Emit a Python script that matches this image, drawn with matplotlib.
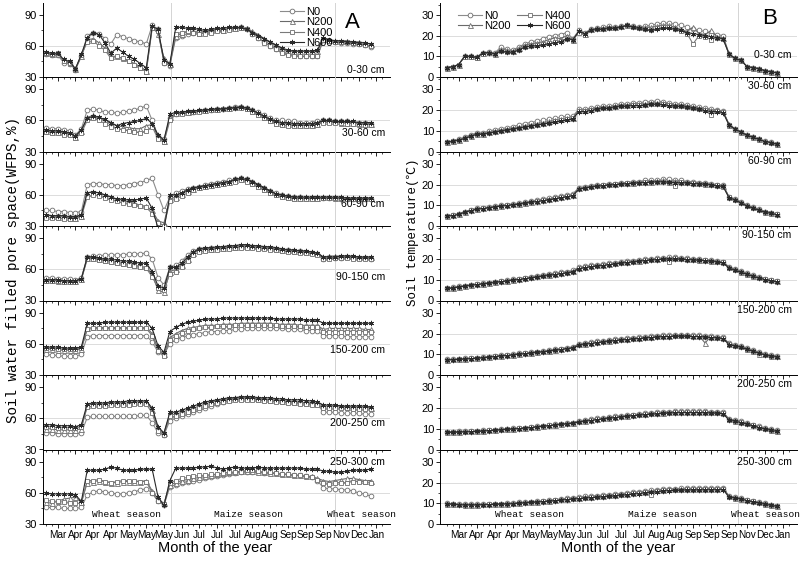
import numpy as np
import matplotlib.pyplot as plt
from matplotlib.ticker import MultipleLocator, FixedLocator

plt.rcParams['font.family'] = ['Liberation Sans', 'DejaVu Sans']

treatments = ['N0', 'N200', 'N400', 'N600']
depths = ['0-30 cm', '30-60 cm', '60-90 cm', '90-150 cm', '150-200 cm', '200-250 cm', '250-300 cm']
month_labels = ['Mar', 'Apr', 'Apr', 'Apr', 'May', 'May', 'May', 'Jun', 'Jul', 'Jul', 'Jul',
                'Aug', 'Aug', 'Sep', 'Sep', 'Sep', 'Nov', 'Dec', 'Jan']
month_pos = [2, 5, 8, 11, 14, 17, 20, 23, 26, 29, 32, 35, 38, 41, 44, 47, 50, 53, 56]

# ---- WFPS (%) ----
wfps1_n0 = [52, 51, 51, 44, 43, 37, 50,
            70, 73, 72, 67, 62, 71, 69, 67, 65, 64, 62,
            80, 76, 44, 41,
            68, 70, 72, 73, 74, 73, 74, 75, 75, 76, 77, 78, 76, 72, 68, 64, 60, 57, 54, 52, 51, 50, 50, 50, 50,
            66, 65, 64, 63, 63, 62, 62, 61, 59]
wfps1_n200 = [53, 52, 52, 46, 44, 38, 50,
              66, 67, 63, 58, 50, 50, 48, 46, 43, 40, 36,
              78, 72, 48, 43,
              70, 72, 74, 74, 73, 74, 75, 76, 75, 77, 77, 78, 77, 74, 71, 67, 63, 60, 57, 55, 55, 55, 55, 55, 55,
              67, 66, 65, 65, 65, 64, 64, 63, 62]
wfps1_n400 = [53, 52, 53, 45, 44, 38, 51,
              64, 65, 60, 56, 48, 50, 48, 45, 42, 39, 35,
              77, 74, 44, 42,
              72, 73, 74, 73, 72, 72, 73, 74, 74, 75, 76, 77, 76, 72, 68, 63, 60, 57, 53, 51, 50, 50, 50, 50, 50,
              66, 65, 64, 64, 64, 63, 62, 61, 60]
wfps1_n600 = [54, 53, 53, 47, 45, 38, 52,
              68, 73, 71, 63, 53, 58, 54, 50, 47, 43, 39,
              79, 76, 46, 43,
              78, 78, 77, 77, 76, 75, 76, 77, 77, 78, 78, 78, 76, 73, 70, 67, 64, 61, 58, 56, 55, 55, 55, 55, 56,
              68, 66, 65, 65, 64, 64, 63, 63, 62]

wfps2_n0 = [53, 52, 52, 51, 50, 46, 52,
            70, 71, 70, 68, 68, 67, 68, 69, 70, 72, 74,
            60, 45, 42, 62,
            66, 67, 68, 68, 69, 70, 70, 71, 71, 72, 73, 73, 72, 70, 68, 65, 62, 60, 60, 59, 59, 58, 58, 58, 59,
            60, 60, 59, 59, 59, 58, 58, 58, 57]
wfps2_n200 = [50, 49, 49, 48, 47, 44, 50,
              63, 65, 63, 60, 57, 55, 54, 53, 52, 52, 55,
              56, 44, 40, 63,
              67, 68, 68, 69, 70, 70, 71, 71, 72, 72, 73, 74, 72, 69, 66, 63, 60, 58, 57, 57, 56, 56, 56, 56, 57,
              59, 59, 59, 58, 58, 58, 57, 57, 57]
wfps2_n400 = [49, 48, 48, 46, 46, 43, 48,
              60, 62, 60, 57, 54, 52, 51, 50, 49, 48, 50,
              54, 42, 39, 60,
              66, 66, 67, 68, 68, 69, 70, 70, 71, 71, 72, 72, 71, 68, 65, 62, 59, 57, 56, 55, 55, 55, 55, 55, 56,
              58, 58, 58, 58, 57, 57, 57, 56, 56]
wfps2_n600 = [51, 50, 50, 49, 48, 45, 51,
              62, 64, 63, 61, 58, 55, 57, 58, 59, 60, 62,
              57, 46, 41, 66,
              68, 68, 69, 69, 70, 70, 71, 71, 71, 72, 72, 73, 72, 70, 67, 64, 61, 59, 58, 58, 57, 57, 57, 57, 58,
              60, 60, 59, 59, 59, 59, 58, 58, 58]

wfps3_n0 = [45, 45, 44, 44, 43, 43, 44,
            70, 71, 71, 70, 70, 69, 69, 70, 71, 72, 74,
            76, 60, 45, 58,
            62, 64, 66, 67, 68, 70, 71, 72, 73, 74, 75, 76, 75, 73, 70, 67, 64, 62, 60, 59, 58, 58, 57, 57, 57,
            57, 57, 57, 56, 56, 56, 56, 56, 56]
wfps3_n200 = [40, 40, 39, 39, 38, 38, 40,
              62, 63, 62, 60, 58, 56, 55, 53, 52, 50, 49,
              45, 35, 33, 56,
              58, 61, 64, 66, 68, 69, 70, 71, 72, 73, 74, 75, 74, 72, 69, 66, 63, 61, 59, 58, 57, 57, 57, 57, 57,
              58, 58, 57, 57, 57, 57, 57, 57, 57]
wfps3_n400 = [38, 38, 38, 37, 37, 37, 39,
              58, 60, 59, 57, 55, 54, 52, 51, 50, 49, 48,
              42, 33, 30, 54,
              56, 59, 62, 65, 67, 68, 69, 70, 71, 72, 73, 74, 73, 71, 68, 65, 62, 60, 58, 57, 56, 56, 56, 56, 56,
              57, 57, 57, 57, 56, 56, 56, 56, 56]
wfps3_n600 = [41, 40, 40, 40, 39, 39, 41,
              62, 63, 62, 60, 58, 56, 56, 55, 55, 56, 57,
              47, 28, 27, 60,
              60, 62, 65, 67, 68, 69, 70, 71, 72, 73, 75, 76, 75, 73, 70, 67, 64, 61, 60, 59, 58, 58, 58, 58, 58,
              58, 58, 58, 58, 57, 57, 57, 57, 57]

wfps4_n0 = [52, 52, 51, 51, 51, 50, 52,
            72, 73, 73, 74, 74, 74, 74, 75, 75, 75, 76,
            70, 52, 45, 62,
            64, 68, 74, 78, 80, 80, 81, 81, 81, 82, 82, 82, 82, 82, 81, 81, 80, 80, 79, 79, 78, 78, 77, 76, 75,
            70, 71, 71, 71, 72, 71, 71, 71, 70]
wfps4_n200 = [50, 50, 49, 49, 49, 49, 51,
              71, 71, 70, 69, 68, 67, 66, 65, 64, 63, 62,
              55, 40, 38, 58,
              60, 64, 70, 76, 79, 80, 80, 81, 81, 82, 82, 83, 83, 83, 82, 82, 81, 80, 79, 79, 78, 78, 77, 77, 76,
              72, 73, 73, 73, 73, 72, 72, 72, 72]
wfps4_n400 = [49, 49, 49, 48, 48, 48, 50,
              70, 70, 69, 68, 67, 66, 65, 64, 63, 62, 61,
              53, 42, 40, 56,
              58, 62, 68, 74, 77, 78, 79, 79, 80, 80, 81, 81, 81, 81, 80, 80, 79, 79, 78, 77, 77, 76, 76, 75, 74,
              70, 70, 71, 71, 71, 70, 70, 70, 70]
wfps4_n600 = [50, 50, 50, 49, 49, 49, 51,
              72, 72, 71, 70, 70, 69, 68, 68, 67, 66, 66,
              58, 44, 42, 62,
              62, 66, 72, 77, 80, 81, 81, 82, 82, 83, 83, 84, 84, 83, 83, 82, 82, 81, 80, 79, 79, 78, 78, 77, 76,
              72, 72, 72, 73, 73, 73, 72, 72, 72]

wfps5_n0 = [50, 49, 49, 48, 48, 48, 50,
            67, 68, 68, 68, 68, 68, 68, 68, 68, 68, 68,
            62, 52, 50, 60,
            64, 66, 68, 69, 70, 71, 72, 72, 73, 73, 74, 74, 75, 75, 75, 75, 75, 75, 75, 74, 74, 74, 73, 73, 73,
            68, 68, 68, 68, 67, 67, 67, 67, 67]
wfps5_n200 = [55, 55, 54, 54, 54, 54, 55,
              75, 76, 76, 76, 76, 76, 76, 76, 76, 76, 76,
              70, 55, 50, 66,
              70, 73, 75, 76, 77, 78, 78, 78, 79, 79, 79, 80, 80, 80, 80, 80, 80, 79, 79, 79, 79, 78, 78, 78, 78,
              74, 75, 75, 75, 75, 75, 75, 74, 74]
wfps5_n400 = [56, 56, 55, 55, 55, 55, 56,
              74, 75, 75, 75, 75, 75, 75, 75, 75, 75, 75,
              68, 53, 48, 64,
              68, 71, 73, 74, 75, 76, 76, 77, 77, 77, 78, 78, 78, 78, 78, 78, 78, 78, 77, 77, 77, 77, 76, 76, 76,
              72, 72, 72, 72, 72, 72, 72, 72, 72]
wfps5_n600 = [57, 57, 57, 56, 56, 56, 57,
              80, 80, 80, 81, 81, 81, 81, 81, 81, 81, 81,
              75, 58, 52, 72,
              76, 79, 81, 82, 83, 84, 84, 84, 85, 85, 85, 85, 85, 85, 85, 85, 85, 84, 84, 84, 84, 84, 83, 83, 83,
              80, 80, 80, 80, 80, 80, 80, 80, 80]

wfps6_n0 = [46, 46, 45, 45, 45, 45, 46,
            61, 62, 62, 62, 62, 62, 62, 62, 62, 63, 63,
            56, 46, 44, 58,
            60, 62, 64, 66, 68, 70, 72, 74, 76, 78, 79, 80, 80, 79, 79, 78, 78, 77, 77, 76, 76, 75, 75, 74, 74,
            66, 66, 66, 65, 65, 65, 65, 64, 64]
wfps6_n200 = [50, 50, 49, 49, 49, 49, 50,
              73, 74, 74, 74, 75, 75, 75, 75, 76, 76, 76,
              68, 50, 46, 64,
              64, 66, 68, 70, 72, 74, 76, 77, 78, 79, 80, 80, 80, 80, 79, 79, 78, 78, 77, 77, 76, 76, 75, 75, 74,
              72, 72, 72, 72, 71, 71, 71, 71, 70]
wfps6_n400 = [52, 52, 51, 51, 51, 51, 52,
              71, 72, 72, 72, 73, 73, 73, 73, 74, 74, 74,
              65, 48, 44, 62,
              62, 64, 66, 68, 70, 72, 74, 75, 76, 77, 78, 78, 78, 78, 78, 77, 77, 76, 76, 75, 75, 74, 74, 73, 73,
              70, 70, 70, 70, 70, 69, 69, 69, 69]
wfps6_n600 = [54, 54, 53, 53, 53, 52, 54,
              74, 75, 75, 75, 76, 76, 76, 77, 77, 77, 77,
              70, 52, 46, 66,
              66, 68, 70, 72, 74, 76, 77, 78, 79, 80, 80, 81, 81, 81, 80, 80, 80, 79, 79, 78, 78, 78, 77, 77, 76,
              73, 73, 73, 72, 72, 72, 72, 72, 71]

wfps7_n0 = [46, 46, 46, 45, 45, 45, 46,
            58, 61, 62, 61, 60, 59, 59, 60, 61, 63, 64,
            60, 52, 48, 66,
            68, 70, 71, 72, 73, 74, 75, 76, 77, 78, 79, 80, 80, 80, 80, 79, 79, 79, 78, 78, 77, 77, 76, 75, 72,
            65, 64, 64, 63, 63, 62, 60, 59, 57]
wfps7_n200 = [51, 50, 52, 54, 55, 56, 51,
              70, 71, 72, 71, 70, 70, 71, 71, 71, 71, 72,
              62, 54, 50, 68,
              70, 72, 73, 74, 75, 76, 77, 78, 79, 80, 80, 81, 81, 81, 80, 80, 79, 79, 78, 78, 77, 77, 76, 76, 74,
              72, 71, 72, 73, 74, 74, 73, 72, 72]
wfps7_n400 = [53, 52, 52, 51, 50, 50, 50,
              72, 72, 73, 71, 70, 71, 72, 72, 72, 71, 71,
              60, 52, 49, 70,
              72, 74, 75, 76, 77, 77, 78, 78, 79, 80, 80, 80, 82, 82, 81, 80, 80, 79, 78, 78, 77, 77, 76, 75, 73,
              70, 69, 70, 70, 70, 71, 71, 71, 70]
wfps7_n600 = [60, 59, 59, 59, 59, 58, 52,
              82, 82, 82, 83, 85, 84, 82, 82, 82, 83, 83,
              83, 56, 48, 72,
              84, 84, 84, 84, 85, 85, 86, 84, 83, 84, 85, 84, 84, 84, 85, 84, 84, 84, 84, 84, 84, 84, 83, 83, 83,
              81, 81, 80, 80, 81, 82, 82, 82, 83]

# ---- Soil temperature (C) ----
temp1_n0 = [4.5, 5.0, 6.0, 10.0, 10.0, 9.5, 11.8, 12.0, 11.5, 14.5,
            13.5, 13.0, 14.5, 16.0, 17.0, 17.5, 18.5, 19.5, 20.0, 20.5,
            21.5, 18.5, 22.5, 21.5, 23.0, 23.5, 24.0, 24.5, 24.0, 24.5,
            25.0, 24.5, 24.0, 24.5, 25.0, 25.5, 26.0, 26.0, 25.5, 25.0,
            24.0, 23.0, 22.5, 22.0, 21.0, 20.5, 20.0, 11.2, 9.0, 8.0,
            5.0, 4.5, 4.0, 3.0, 2.5, 2.0]
temp1_n200 = [4.4, 5.0, 6.0, 10.0, 10.0, 9.5, 11.5, 12.0, 11.2, 13.5,
              13.0, 12.5, 14.0, 15.5, 16.0, 16.5, 17.0, 18.0, 19.0, 18.5,
              20.0, 18.0, 22.0, 21.0, 23.0, 23.5, 23.5, 24.0, 24.0, 24.5,
              25.0, 24.5, 24.0, 24.0, 24.0, 24.5, 25.0, 25.0, 24.0, 23.0,
              22.0, 24.0, 21.0, 20.5, 22.5, 19.5, 19.0, 11.0, 9.0, 8.0,
              5.0, 4.5, 4.0, 3.0, 2.5, 2.0]
temp1_n400 = [4.3, 5.0, 6.0, 9.8, 9.8, 9.3, 11.3, 11.5, 11.0, 12.5,
              12.0, 12.0, 13.0, 14.5, 15.0, 15.5, 16.0, 16.5, 17.0, 17.5,
              18.5, 18.0, 21.5, 20.5, 22.5, 23.0, 23.0, 23.5, 23.5, 24.0,
              25.0, 24.0, 23.5, 23.0, 22.5, 23.5, 24.0, 24.0, 23.0, 22.0,
              21.0, 16.0, 20.0, 19.5, 18.0, 19.0, 18.5, 11.0, 9.0, 8.0,
              5.0, 4.5, 4.0, 3.0, 2.5, 2.0]
temp1_n600 = [4.4, 5.0, 6.0, 10.0, 10.0, 9.5, 11.5, 11.8, 11.2, 12.5,
              12.0, 12.0, 13.0, 14.5, 15.0, 15.0, 15.5, 16.0, 16.5, 17.0,
              18.5, 18.0, 22.0, 21.0, 22.5, 23.0, 23.0, 23.5, 23.5, 24.0,
              25.0, 24.0, 23.5, 23.0, 22.5, 23.0, 23.5, 23.5, 23.0, 22.5,
              21.5, 21.0, 20.5, 20.0, 19.5, 19.0, 18.5, 11.0, 9.0, 8.0,
              5.0, 4.5, 4.0, 3.0, 2.5, 2.0]

temp2_n0 = [4.6, 5.2, 5.8, 7.0, 8.0, 9.0, 9.0, 9.8, 10.5, 11.0,
            11.5, 12.0, 12.8, 13.5, 14.0, 14.5, 15.0, 15.5, 16.0, 16.5,
            17.0, 17.0, 20.5, 20.5, 21.0, 21.5, 22.0, 22.0, 22.5, 23.0,
            23.0, 23.5, 23.5, 24.0, 24.0, 24.5, 24.0, 23.5, 23.0, 23.0,
            22.5, 22.0, 21.5, 21.0, 20.5, 20.0, 19.5, 13.0, 11.0, 9.5,
            8.0, 7.0, 6.0, 5.0, 4.5, 3.5]
temp2_n200 = [4.5, 5.0, 5.6, 6.6, 7.6, 8.6, 8.6, 9.2, 9.8, 10.3,
              10.8, 11.3, 11.8, 12.5, 13.0, 13.5, 14.0, 14.5, 15.0, 15.5,
              16.0, 16.3, 20.0, 20.0, 20.5, 21.0, 21.5, 21.5, 22.0, 22.5,
              22.5, 23.0, 23.0, 23.0, 23.5, 23.5, 23.5, 23.0, 22.5, 22.5,
              22.0, 21.5, 21.0, 20.5, 20.0, 20.0, 19.5, 13.0, 11.0, 9.5,
              8.0, 7.0, 6.0, 5.0, 4.5, 3.5]
temp2_n400 = [4.4, 5.0, 5.5, 6.5, 7.5, 8.5, 8.4, 9.0, 9.5, 10.0,
              10.5, 11.0, 11.5, 12.0, 12.5, 13.0, 13.5, 14.0, 14.5, 15.0,
              15.5, 16.0, 19.5, 19.5, 20.0, 20.5, 21.0, 21.0, 21.5, 22.0,
              22.0, 22.5, 22.5, 22.5, 23.0, 23.0, 23.0, 22.5, 22.0, 22.0,
              21.5, 21.0, 20.5, 20.0, 17.5, 19.5, 19.0, 12.8, 10.8, 9.3,
              7.8, 6.8, 5.8, 4.8, 4.3, 3.4]
temp2_n600 = [4.4, 4.9, 5.4, 6.3, 7.3, 8.3, 8.3, 8.8, 9.3, 9.8,
              10.2, 10.7, 11.2, 11.7, 12.2, 12.7, 13.2, 13.7, 14.2, 14.7,
              15.2, 15.7, 19.3, 19.3, 19.8, 20.3, 20.8, 20.8, 21.3, 21.8,
              21.8, 22.2, 22.2, 22.3, 22.8, 22.8, 22.5, 22.2, 21.8, 21.8,
              21.3, 20.8, 20.3, 19.8, 19.3, 19.3, 18.8, 12.8, 10.8, 9.3,
              7.8, 6.8, 5.8, 4.8, 4.3, 3.4]

temp3_n0 = [5.0, 5.3, 6.0, 7.0, 7.8, 8.5, 8.8, 9.2, 9.6, 10.0,
            10.3, 10.7, 11.0, 11.5, 12.0, 12.5, 13.0, 13.5, 14.0, 14.5,
            15.0, 15.5, 18.5, 19.0, 19.5, 20.0, 20.0, 20.5, 20.5, 21.0,
            21.0, 21.5, 21.5, 22.0, 22.0, 22.0, 22.5, 22.5, 22.0, 22.0,
            21.5, 21.5, 21.0, 21.0, 20.5, 20.0, 19.8, 14.0, 13.0, 11.5,
            10.0, 9.0, 8.0, 7.0, 6.5, 5.8]
temp3_n200 = [4.9, 5.2, 5.8, 6.8, 7.6, 8.3, 8.6, 9.0, 9.4, 9.8,
              10.1, 10.5, 10.8, 11.2, 11.7, 12.2, 12.6, 13.0, 13.5, 14.0,
              14.5, 15.0, 18.3, 18.7, 19.2, 19.6, 19.8, 20.2, 20.3, 20.6,
              20.8, 21.0, 21.2, 21.5, 21.5, 21.8, 22.0, 21.5, 21.8, 21.5,
              21.2, 21.0, 20.8, 20.5, 20.2, 19.8, 19.5, 14.0, 13.0, 11.5,
              10.0, 9.0, 8.0, 7.0, 6.5, 5.8]
temp3_n400 = [4.8, 5.1, 5.7, 6.7, 7.5, 8.2, 8.5, 8.9, 9.3, 9.7,
              10.0, 10.3, 10.6, 11.0, 11.5, 12.0, 12.4, 12.8, 13.3, 13.8,
              14.3, 14.8, 18.0, 18.5, 19.0, 19.4, 19.6, 20.0, 20.1, 20.4,
              20.6, 20.8, 21.0, 21.2, 21.3, 21.5, 21.5, 21.3, 19.5, 21.2,
              21.0, 20.8, 20.5, 20.3, 20.0, 19.6, 19.3, 13.8, 12.8, 11.3,
              9.8, 8.8, 7.8, 6.8, 6.3, 5.6]
temp3_n600 = [4.8, 5.0, 5.6, 6.6, 7.4, 8.1, 8.4, 8.8, 9.2, 9.6,
              9.9, 10.2, 10.5, 10.9, 11.4, 11.8, 12.2, 12.6, 13.1, 13.6,
              14.1, 14.6, 17.8, 18.3, 18.8, 19.2, 19.4, 19.8, 19.9, 20.2,
              20.4, 20.6, 20.8, 21.0, 21.1, 21.3, 21.3, 21.1, 21.0, 20.9,
              20.7, 20.5, 20.3, 20.1, 19.8, 19.4, 19.1, 13.6, 12.6, 11.1,
              9.6, 8.6, 7.6, 6.6, 6.1, 5.4]

temp4_n0 = [6.0, 6.3, 6.8, 7.2, 7.6, 8.0, 8.3, 8.6, 9.0, 9.4,
            9.8, 10.2, 10.6, 11.0, 11.5, 12.0, 12.4, 12.8, 13.2, 13.6,
            14.0, 14.5, 16.0, 16.5, 17.0, 17.3, 17.6, 18.0, 18.3, 18.7,
            19.0, 19.3, 19.6, 20.0, 20.2, 20.4, 20.6, 20.8, 20.8, 20.6,
            20.4, 20.2, 20.0, 19.8, 19.5, 19.2, 18.8, 16.2, 15.2, 14.2,
            13.2, 12.2, 11.4, 10.6, 10.0, 9.5]
temp4_n200 = [5.9, 6.2, 6.7, 7.1, 7.5, 7.9, 8.2, 8.5, 8.9, 9.3,
              9.6, 10.0, 10.4, 10.8, 11.2, 11.7, 12.1, 12.5, 12.9, 13.3,
              13.7, 14.2, 15.8, 16.2, 16.7, 17.0, 17.3, 17.7, 18.0, 18.4,
              18.7, 19.0, 19.3, 19.7, 19.9, 20.1, 20.3, 20.5, 20.5, 20.4,
              20.2, 20.0, 19.8, 19.6, 19.3, 19.0, 18.6, 16.0, 15.0, 14.0,
              13.0, 12.0, 11.2, 10.5, 9.9, 9.4]
temp4_n400 = [5.8, 6.1, 6.6, 7.0, 7.4, 7.8, 8.1, 8.4, 8.8, 9.2,
              9.5, 9.9, 10.3, 10.7, 11.1, 11.5, 11.9, 12.3, 12.7, 13.1,
              13.5, 14.0, 15.6, 16.0, 16.5, 16.8, 17.1, 17.5, 17.8, 18.2,
              18.5, 18.8, 19.1, 19.5, 19.7, 19.9, 20.1, 18.5, 20.3, 20.2,
              20.0, 19.8, 19.6, 19.4, 19.1, 18.8, 18.4, 15.8, 14.8, 13.8,
              12.8, 11.8, 11.0, 10.3, 9.7, 9.2]
temp4_n600 = [5.8, 6.0, 6.5, 6.9, 7.3, 7.7, 8.0, 8.3, 8.7, 9.1,
              9.4, 9.8, 10.1, 10.5, 10.9, 11.3, 11.7, 12.1, 12.5, 12.9,
              13.3, 13.8, 15.4, 15.8, 16.3, 16.6, 16.9, 17.3, 17.6, 18.0,
              18.3, 18.6, 18.9, 19.3, 19.5, 19.7, 19.9, 20.0, 20.0, 19.9,
              19.8, 19.6, 19.4, 19.2, 18.9, 18.6, 18.2, 15.6, 14.6, 13.6,
              12.6, 11.6, 10.8, 10.1, 9.5, 9.0]

temp5_n0 = [7.5, 7.6, 7.8, 8.0, 8.2, 8.4, 8.6, 8.9, 9.2, 9.5,
            9.8, 10.1, 10.4, 10.7, 11.0, 11.3, 11.6, 12.0, 12.4, 12.8,
            13.2, 13.6, 15.0, 15.5, 15.8, 16.2, 16.5, 16.8, 17.2, 17.5,
            17.8, 18.0, 18.3, 18.5, 18.8, 19.0, 19.2, 19.3, 19.4, 19.4,
            19.4, 19.3, 19.2, 19.0, 18.8, 18.5, 18.2, 15.3, 14.6, 14.0,
            13.0, 12.0, 11.0, 10.2, 9.6, 9.2]
temp5_n200 = [7.4, 7.5, 7.7, 7.9, 8.1, 8.3, 8.5, 8.8, 9.1, 9.4,
              9.6, 9.9, 10.2, 10.5, 10.8, 11.1, 11.4, 11.8, 12.2, 12.6,
              13.0, 13.4, 14.8, 15.2, 15.6, 16.0, 16.3, 16.6, 17.0, 17.3,
              17.5, 17.8, 18.0, 18.2, 18.5, 18.7, 18.9, 19.0, 19.1, 19.1,
              19.1, 19.0, 18.9, 15.5, 18.6, 18.3, 18.0, 15.1, 14.4, 13.8,
              12.8, 11.8, 10.2, 10.0, 9.4, 9.0]
temp5_n400 = [7.3, 7.4, 7.6, 7.8, 8.0, 8.2, 8.4, 8.7, 9.0, 9.3,
              9.5, 9.8, 10.1, 10.4, 10.7, 11.0, 11.3, 11.6, 12.0, 12.4,
              12.8, 13.2, 14.5, 15.0, 15.4, 15.8, 16.1, 16.4, 16.8, 17.1,
              17.3, 17.6, 17.8, 18.0, 18.3, 18.5, 18.7, 18.8, 18.9, 18.9,
              18.9, 18.8, 18.7, 18.5, 18.3, 18.1, 17.8, 14.9, 14.2, 13.6,
              12.6, 11.6, 10.8, 9.8, 9.2, 8.8]
temp5_n600 = [7.3, 7.4, 7.5, 7.7, 7.9, 8.1, 8.3, 8.6, 8.9, 9.2,
              9.4, 9.7, 10.0, 10.3, 10.6, 10.9, 11.2, 11.5, 11.9, 12.3,
              12.7, 13.1, 14.3, 14.8, 15.2, 15.6, 15.9, 16.2, 16.6, 16.9,
              17.1, 17.4, 17.6, 17.8, 18.1, 18.3, 18.5, 18.6, 18.7, 18.7,
              18.7, 18.6, 18.5, 18.3, 18.1, 17.9, 17.6, 14.7, 14.0, 13.4,
              12.4, 11.4, 10.6, 9.6, 9.0, 8.6]

temp6_n0 = [8.5, 8.6, 8.7, 8.8, 8.9, 9.0, 9.2, 9.4, 9.6, 9.8,
            10.0, 10.2, 10.4, 10.6, 10.9, 11.2, 11.5, 11.8, 12.1, 12.4,
            12.7, 13.0, 13.8, 14.2, 14.6, 15.0, 15.3, 15.6, 16.0, 16.3,
            16.6, 16.9, 17.2, 17.5, 17.7, 17.9, 18.1, 18.3, 18.4, 18.5,
            18.5, 18.5, 18.5, 18.4, 18.3, 18.2, 18.0, 14.8, 14.2, 13.6,
            12.8, 12.0, 11.2, 10.5, 9.8, 9.2]
temp6_n200 = [8.4, 8.5, 8.6, 8.7, 8.8, 8.9, 9.1, 9.3, 9.5, 9.7,
              9.9, 10.1, 10.3, 10.5, 10.8, 11.1, 11.4, 11.7, 12.0, 12.3,
              12.6, 12.9, 13.6, 14.0, 14.4, 14.8, 15.1, 15.4, 15.8, 16.1,
              16.4, 16.7, 17.0, 17.2, 17.4, 17.6, 17.8, 18.0, 18.1, 18.2,
              18.2, 18.2, 18.2, 18.1, 18.0, 17.9, 17.7, 14.6, 14.0, 13.4,
              12.6, 11.8, 11.0, 10.3, 9.6, 9.0]
temp6_n400 = [8.3, 8.4, 8.5, 8.6, 8.7, 8.8, 9.0, 9.2, 9.4, 9.6,
              9.8, 10.0, 10.2, 10.4, 10.7, 11.0, 11.3, 11.6, 11.9, 12.2,
              12.5, 12.8, 13.4, 13.8, 14.2, 14.6, 14.9, 15.2, 15.6, 15.9,
              16.2, 16.5, 16.8, 17.0, 17.2, 17.4, 17.6, 17.8, 17.9, 18.0,
              18.0, 18.0, 18.0, 17.9, 17.8, 17.7, 17.5, 14.4, 13.8, 13.2,
              12.4, 11.6, 10.8, 10.1, 9.4, 8.8]
temp6_n600 = [8.3, 8.3, 8.4, 8.5, 8.6, 8.7, 8.9, 9.1, 9.3, 9.5,
              9.7, 9.9, 10.1, 10.3, 10.6, 10.9, 11.2, 11.5, 11.8, 12.1,
              12.4, 12.7, 13.2, 13.6, 14.0, 14.4, 14.7, 15.0, 15.4, 15.7,
              16.0, 16.3, 16.6, 16.8, 17.0, 17.2, 17.4, 17.6, 17.7, 17.8,
              17.8, 17.8, 17.8, 17.7, 17.6, 17.5, 17.3, 14.2, 13.6, 13.0,
              12.2, 11.4, 10.6, 9.9, 9.2, 8.7]

temp7_n0 = [10.0, 9.8, 9.6, 9.5, 9.5, 9.5, 9.6, 9.7, 9.8, 9.9,
            10.0, 10.2, 10.4, 10.6, 10.8, 11.0, 11.2, 11.5, 11.8, 12.1,
            12.4, 12.7, 13.0, 13.3, 13.5, 13.7, 14.0, 14.2, 14.4, 14.7,
            15.0, 15.3, 15.6, 15.9, 16.2, 16.5, 16.8, 17.0, 17.1, 17.2,
            17.3, 17.3, 17.3, 17.4, 17.4, 17.4, 17.5, 13.5, 13.0, 12.5,
            11.8, 11.2, 10.6, 10.0, 9.4, 8.8]
temp7_n200 = [9.9, 9.7, 9.5, 9.4, 9.4, 9.4, 9.5, 9.6, 9.7, 9.8,
              9.9, 10.0, 10.2, 10.4, 10.6, 10.8, 11.0, 11.3, 11.6, 11.9,
              12.2, 12.5, 12.7, 13.0, 13.2, 13.4, 13.7, 13.9, 14.1, 14.4,
              14.7, 15.0, 15.3, 15.6, 15.9, 16.2, 16.5, 16.7, 16.8, 16.9,
              17.0, 17.0, 17.0, 17.1, 17.1, 17.1, 17.2, 13.3, 12.8, 12.3,
              11.6, 11.0, 10.4, 9.8, 9.2, 8.7]
temp7_n400 = [9.8, 9.6, 9.4, 9.3, 9.3, 9.3, 9.4, 9.5, 9.6, 9.7,
              9.8, 9.9, 10.1, 10.3, 10.5, 10.7, 10.9, 11.1, 11.4, 11.7,
              12.0, 12.3, 12.5, 12.8, 13.0, 13.2, 13.5, 13.7, 13.9, 14.2,
              14.5, 14.8, 15.1, 15.4, 13.8, 15.9, 16.2, 16.4, 16.5, 16.6,
              16.7, 16.7, 16.7, 16.8, 16.8, 16.8, 16.9, 13.2, 12.7, 12.2,
              11.5, 10.9, 10.3, 9.7, 9.1, 8.6]
temp7_n600 = [9.8, 9.5, 9.3, 9.2, 9.2, 9.2, 9.3, 9.4, 9.5, 9.6,
              9.7, 9.8, 10.0, 10.2, 10.4, 10.6, 10.8, 11.0, 11.2, 11.5,
              11.8, 12.0, 12.2, 12.5, 12.7, 12.9, 13.1, 13.3, 13.5, 13.8,
              14.1, 14.4, 14.7, 15.0, 15.3, 15.6, 15.9, 16.1, 16.2, 16.3,
              16.4, 16.4, 16.4, 16.5, 16.5, 16.5, 16.6, 13.0, 12.5, 12.0,
              11.3, 10.7, 10.1, 9.5, 9.0, 8.5]

wfps = [[wfps1_n0, wfps1_n200, wfps1_n400, wfps1_n600],
        [wfps2_n0, wfps2_n200, wfps2_n400, wfps2_n600],
        [wfps3_n0, wfps3_n200, wfps3_n400, wfps3_n600],
        [wfps4_n0, wfps4_n200, wfps4_n400, wfps4_n600],
        [wfps5_n0, wfps5_n200, wfps5_n400, wfps5_n600],
        [wfps6_n0, wfps6_n200, wfps6_n400, wfps6_n600],
        [wfps7_n0, wfps7_n200, wfps7_n400, wfps7_n600]]
temp = [[temp1_n0, temp1_n200, temp1_n400, temp1_n600],
        [temp2_n0, temp2_n200, temp2_n400, temp2_n600],
        [temp3_n0, temp3_n200, temp3_n400, temp3_n600],
        [temp4_n0, temp4_n200, temp4_n400, temp4_n600],
        [temp5_n0, temp5_n200, temp5_n400, temp5_n600],
        [temp6_n0, temp6_n200, temp6_n400, temp6_n600],
        [temp7_n0, temp7_n200, temp7_n400, temp7_n600]]

# marker / line style per treatment (Origin-like grey scale)
styles = {
    'N0':   dict(marker='o', color='#8c8c8c', mec='#6e6e6e', ms=3.4),
    'N200': dict(marker='^', color='#6a6a6a', mec='#6e6e6e', ms=3.6),
    'N400': dict(marker='s', color='#7a7a7a', mec='#6e6e6e', ms=3.2),
    'N600': dict(marker=(6, 2, 0), color='#2a2a2a', mec='#2a2a2a', ms=3.8),
}

# depth label positions (axes fraction)
left_lab_y = [0.09, 0.25, 0.30, 0.32, 0.34, 0.36, 0.83]
right_lab_y = [0.30, 0.875, 0.875, 0.875, 0.875, 0.875, 0.83]

fig = plt.figure(figsize=(8, 5.62), dpi=100)
H = 562.0
ph = 74.5 / H

cols = [
    dict(x0=43 / 800, w=347 / 800, data=wfps, ylim=(30, 102), yt=[30, 60, 90], ym=15,
         xlim=(-0.5, 58.3), vl=(21.2, 49.0), grid=[60], laby=left_lab_y),
    dict(x0=440 / 800, w=357 / 800, data=temp, ylim=(0, 36), yt=[0, 10, 20, 30], ym=5,
         xlim=(-1.1, 58.3), vl=(21.7, 48.5), grid=[10, 20], laby=right_lab_y),
]

axes_cols = []
for c in cols:
    axs = []
    for k in range(7):
        b = 1 - (77 + 74.5 * k) / H
        ax = fig.add_axes([c['x0'], b, c['w'], ph])
        ax.set_facecolor('none')   # let ticks of the panel above show through
        for v in c['vl']:
            ax.axvline(v, color='#d4d4d4', lw=0.7, zorder=0)
        for g in c['grid']:
            ax.axhline(g, color='#dcdcdc', lw=0.7, zorder=0)
        for t, vals in zip(treatments, c['data'][k]):
            st = styles[t]
            ax.plot(np.arange(len(vals)), vals, marker=st['marker'], color=st['color'],
                    mfc='white' if t != 'N600' else st['color'], mec=st['mec'],
                    ms=st['ms'], mew=0.6, lw=0.8, label=t, zorder=3)
        ax.set_xlim(*c['xlim'])
        ax.set_ylim(*c['ylim'])
        ax.set_yticks(c['yt'])
        ax.yaxis.set_minor_locator(MultipleLocator(c['ym']))
        ax.set_xticks(month_pos)
        ax.xaxis.set_minor_locator(FixedLocator(np.arange(0, 58)))
        ax.spines['top'].set_visible(False)
        ax.spines['right'].set_visible(False)
        for s in ('left', 'bottom'):
            ax.spines[s].set_linewidth(0.7)
        ax.tick_params(which='major', length=2.8, width=0.6, labelsize=8, pad=1.5)
        ax.tick_params(axis='x', which='major', labelsize=7.2)
        ax.tick_params(which='minor', length=1.6, width=0.5)
        if k == 6:
            ax.set_xticklabels(month_labels)
        else:
            ax.tick_params(axis='x', labelbottom=False)
        ax.text(0.985, c['laby'][k], depths[k], transform=ax.transAxes,
                ha='right', va='center', fontsize=7.5)
        axs.append(ax)
    axes_cols.append(axs)

# season text
season_font = ['Liberation Mono', 'DejaVu Sans Mono']
axL = axes_cols[0][6]
for xc, s in [(13.6, 'Wheat season'), (34.4, 'Maize season'), (53.4, 'Wheat season')]:
    axL.text(xc, 39.5, s, ha='center', va='center', fontsize=6.8, family=season_font)
axR = axes_cols[1][6]
for xc, s in [(13.8, 'Wheat season'), (36.0, 'Maize season'), (53.0, 'Wheat season')]:
    axR.text(xc, 4.5, s, ha='center', va='center', fontsize=6.8, family=season_font)

# legends
h, l = axes_cols[0][0].get_legend_handles_labels()
fig.legend(h, l, loc='upper left', bbox_to_anchor=(274 / 800, 1 - 1 / H), frameon=False,
           fontsize=8, handlelength=2.2, handletextpad=0.2, labelspacing=0.05, borderpad=0)
h, l = axes_cols[1][0].get_legend_handles_labels()
fig.legend(h, l, loc='upper left', bbox_to_anchor=(452 / 800, 1 - 5 / H), frameon=False,
           fontsize=8, ncol=2, handlelength=2.2, handletextpad=0.2, labelspacing=0.05,
           columnspacing=0.6, borderpad=0)

fig.text(352 / 800, 1 - 22 / H, 'A', ha='center', va='center', fontsize=16)
fig.text(770 / 800, 1 - 18 / H, 'B', ha='center', va='center', fontsize=16)

fig.text(13 / 800, 1 - 270 / H, 'Soil water filled pore space(WFPS,%)', rotation=90,
         ha='center', va='center', fontsize=10.3, family=['Liberation Mono', 'DejaVu Sans Mono'])
fig.text(413 / 800, 1 - 232 / H, 'Soil temperature(\u2103)', rotation=90,
         ha='center', va='center', fontsize=9,
         family=['Liberation Mono', 'Noto Sans CJK SC', 'DejaVu Sans'])

fig.text(215 / 800, 1 - 548 / H, 'Month of the year', ha='center', va='center', fontsize=10.5)
fig.text(618 / 800, 1 - 548 / H, 'Month of the year', ha='center', va='center', fontsize=10.5)

fig.savefig('out.png', dpi=100)
